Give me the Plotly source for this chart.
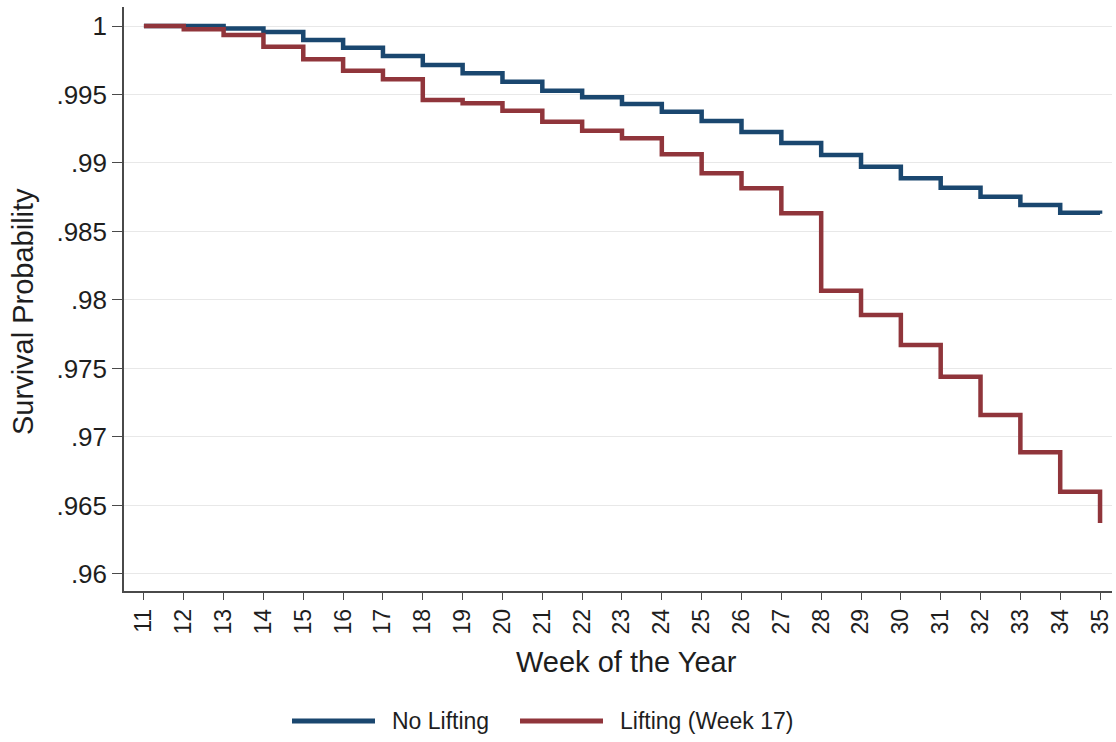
import plotly.graph_objects as go

weeks = list(range(11, 36))
no_lifting = [1.0, 1.0, 0.99982, 0.99956, 0.99898, 0.99842, 0.99781, 0.99715, 0.99655,
              0.99593, 0.99528, 0.99480, 0.99431, 0.99374, 0.99307, 0.99226, 0.99146,
              0.99058, 0.98973, 0.98888, 0.98820, 0.98754, 0.98693, 0.98637, 0.98630]
lifting = [1.0, 0.99976, 0.99934, 0.99849, 0.99757, 0.99674, 0.99611, 0.99460, 0.99436,
           0.99382, 0.99301, 0.99236, 0.99180, 0.99064, 0.98925, 0.98815, 0.98633,
           0.98068, 0.97891, 0.97672, 0.97440, 0.97161, 0.96888, 0.96601, 0.96372]
ytick_vals = [1.0, 0.995, 0.99, 0.985, 0.98, 0.975, 0.97, 0.965, 0.96]
ytick_text = ["1", ".995", ".99", ".985", ".98", ".975", ".97", ".965", ".96"]
series_names = ["No Lifting", "Lifting (Week 17)"]
colors = ["#1A476F", "#90353B"]

W, H = 1116, 742
L, R, T, B = 124, 4, 7, 151
pw, ph = W - L - R, H - T - B

def px(x):
    return (x - L) / pw

def py(y):
    return (H - B - y) / ph

FONT = "Liberation Sans, Arial, sans-serif"
TXT = "#1e1e1e"

fig = go.Figure()
for name, vals, col in [(series_names[0], no_lifting, colors[0]), (series_names[1], lifting, colors[1])]:
    fig.add_trace(go.Scatter(x=weeks, y=vals, mode="lines", name=name,
                             line=dict(color=col, width=4.5, shape="hv"), showlegend=False))

fig.update_layout(
    width=W, height=H,
    margin=dict(l=L, r=R, t=T, b=B),
    paper_bgcolor="white", plot_bgcolor="white",
    font=dict(family=FONT, color=TXT),
    xaxis=dict(range=[10.5, 35.3], tickmode="array", tickvals=weeks,
               ticktext=[str(w) for w in weeks], tickangle=-90,
               tickfont=dict(size=23, family=FONT, color=TXT),
               showgrid=False, zeroline=False, showline=True, linecolor="#4a4a4a",
               linewidth=1.5, ticks="outside", ticklen=7, tickcolor="#4a4a4a", tickwidth=1.2),
    yaxis=dict(range=[0.958757, 1.001387], tickmode="array", tickvals=ytick_vals,
               ticktext=ytick_text, tickfont=dict(size=26, family=FONT, color=TXT),
               showgrid=True, gridcolor="#e8e8e8", gridwidth=1, zeroline=False,
               showline=True, linecolor="#4a4a4a", linewidth=1.5,
               ticks="outside", ticklen=10, tickcolor="#4a4a4a", tickwidth=1.2),
)

# axis titles
fig.add_annotation(text="Week of the Year", xref="paper", yref="paper",
                   x=px(626), y=py(662), xanchor="center", yanchor="middle",
                   showarrow=False, font=dict(size=29, family=FONT, color=TXT))
fig.add_annotation(text="Survival Probability", xref="paper", yref="paper",
                   x=px(23), y=py(312), xanchor="center", yanchor="middle", textangle=-90,
                   showarrow=False, font=dict(size=29, family=FONT, color=TXT))

# legend
leg_y = 721
for (x0, x1, tx), name, col in zip([(292, 375, 390), (520, 603, 618)], series_names, colors):
    fig.add_shape(type="line", xref="paper", yref="paper", x0=px(x0), x1=px(x1),
                  y0=py(leg_y), y1=py(leg_y), line=dict(color=col, width=5))
    fig.add_annotation(text=name, xref="paper", yref="paper", x=px(tx), y=py(leg_y),
                       xanchor="left", yanchor="middle", showarrow=False,
                       font=dict(size=23, family=FONT, color=TXT))

fig.write_html("out.html", config={"displayModeBar": False},
               post_script="document.body.style.margin='0';document.body.style.overflow='hidden';")
